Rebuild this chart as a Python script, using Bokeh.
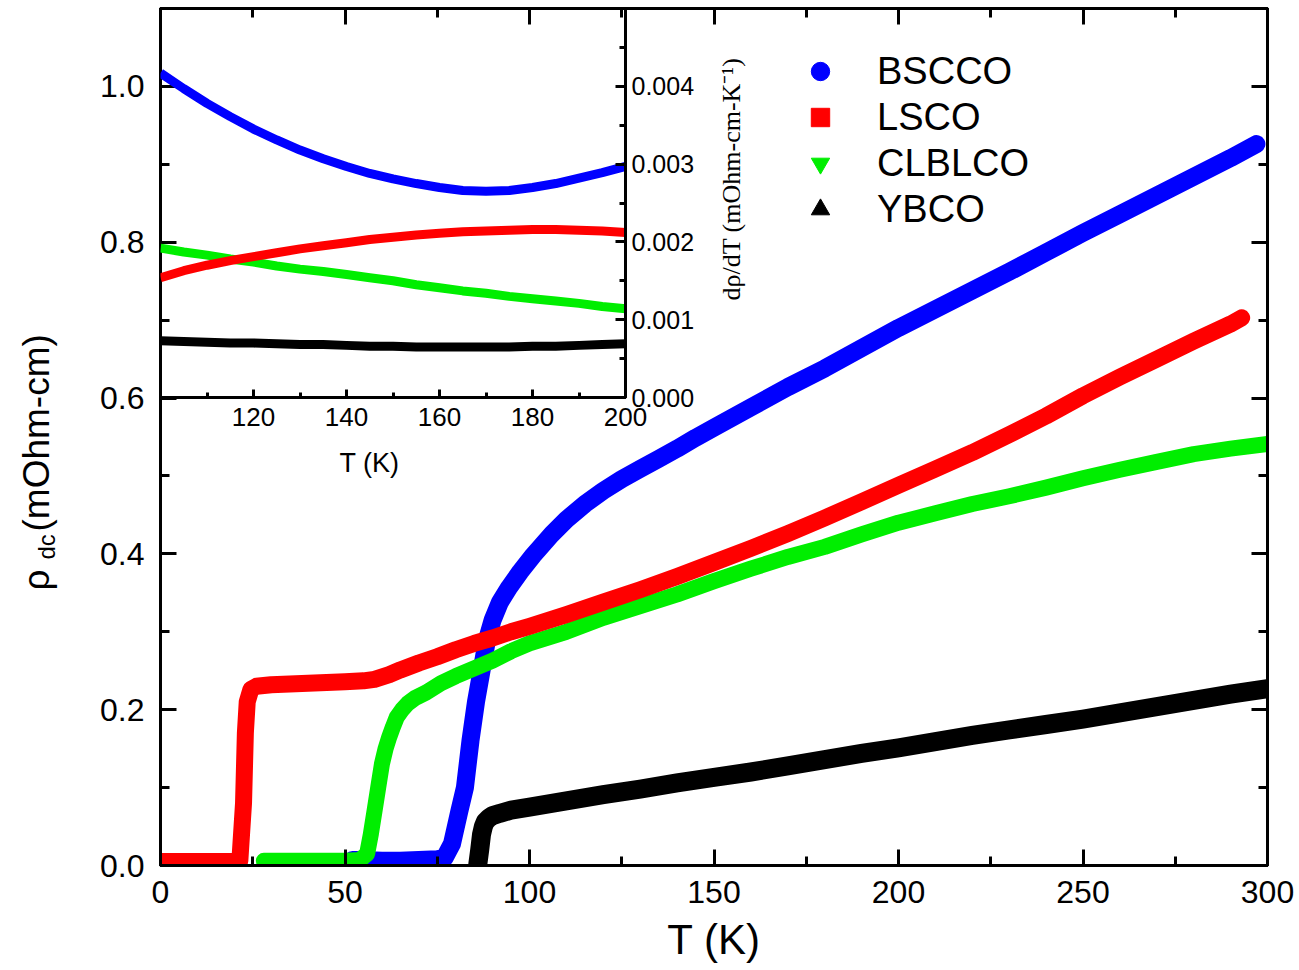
import math
from bokeh.plotting import figure
from bokeh.models import (Range1d, LinearAxis, SingleIntervalTicker, FixedTicker,
                          PrintfTickFormatter, CustomJSTickFormatter, Legend, LegendItem, Label)
from bokeh.layouts import column
from bokeh.embed import file_html
from bokeh.resources import INLINE

# ---------------- data ----------------
# Main panel: resistivity rho_dc (mOhm-cm) vs T (K)
bscco_T = [52, 55, 60, 65, 70, 75, 77, 79, 81, 82.5, 84, 85.5, 87, 88.5, 90, 92, 94.5, 97.5, 101, 106,
           110, 115, 120, 125, 130, 135, 140, 145, 150, 160, 170, 180, 190, 200, 210, 220, 230, 240,
           250, 260, 270, 280, 290, 297]
bscco_R = [0.007, 0.007, 0.006, 0.006, 0.007, 0.008, 0.010, 0.028, 0.07, 0.10, 0.16, 0.21, 0.25, 0.29,
           0.315, 0.338, 0.357, 0.377, 0.398, 0.425, 0.444, 0.464, 0.481, 0.496, 0.509, 0.522, 0.535,
           0.549, 0.562, 0.588, 0.614, 0.638, 0.664, 0.690, 0.714, 0.738, 0.762, 0.787, 0.812, 0.836,
           0.860, 0.884, 0.908, 0.926]

lsco_T = [0, 5, 10, 15, 20, 21.5, 22.5, 23, 23.5, 24.5, 26, 28, 30, 35, 40, 45, 50, 55, 58, 62, 65, 70,
          75, 80, 85, 90, 95, 100, 110, 120, 130, 140, 150, 160, 170, 180, 190, 200, 210, 220, 230,
          240, 250, 260, 270, 280, 290, 293]
lsco_R = [0.005, 0.005, 0.005, 0.005, 0.005, 0.006, 0.08, 0.17, 0.21, 0.226, 0.230, 0.231, 0.232, 0.233,
          0.234, 0.235, 0.236, 0.237, 0.239, 0.245, 0.251, 0.260, 0.268, 0.277, 0.285, 0.292, 0.300,
          0.307, 0.322, 0.338, 0.354, 0.371, 0.389, 0.407, 0.426, 0.446, 0.467, 0.488, 0.509, 0.530,
          0.553, 0.577, 0.603, 0.627, 0.650, 0.673, 0.695, 0.703]

clblco_T = [28, 35, 40, 45, 50, 54, 56, 57, 58, 59, 60, 61, 62, 63, 64, 65.5, 67, 69, 72, 76, 80, 85, 90,
            95, 100, 110, 120, 130, 140, 150, 160, 170, 180, 190, 200, 210, 220, 230, 240, 250, 260,
            270, 280, 290, 300]
clblco_R = [0.006, 0.006, 0.006, 0.006, 0.006, 0.007, 0.015, 0.04, 0.07, 0.10, 0.13, 0.15, 0.165, 0.178,
            0.19, 0.2, 0.208, 0.215, 0.222, 0.234, 0.243, 0.253, 0.263, 0.275, 0.285, 0.300, 0.318,
            0.333, 0.348, 0.365, 0.381, 0.396, 0.409, 0.425, 0.440, 0.452, 0.464, 0.474, 0.485, 0.497,
            0.508, 0.518, 0.528, 0.535, 0.541]

ybco_T = [86, 86.5, 87, 87.5, 88, 89, 90, 92, 95, 100, 110, 120, 130, 140, 150, 160, 170, 180, 190, 200,
          210, 220, 230, 240, 250, 260, 270, 280, 290, 300]
ybco_R = [0.002, 0.02, 0.04, 0.05, 0.056, 0.061, 0.064, 0.067, 0.071, 0.075, 0.083, 0.091, 0.098, 0.106,
          0.113, 0.120, 0.128, 0.136, 0.144, 0.151, 0.159, 0.167, 0.174, 0.181, 0.188, 0.196, 0.204,
          0.212, 0.220, 0.227]

# Inset: d rho / dT (mOhm-cm-K^-1) vs T (K)
inset_T = [100, 105, 110, 115, 120, 125, 130, 135, 140, 145, 150, 155, 160, 165, 170, 175, 180, 185,
           190, 195, 200]
bscco_dR = [0.00417, 0.00397, 0.00378, 0.00361, 0.00345, 0.00331, 0.00318, 0.00307, 0.00297, 0.00288,
            0.00281, 0.00275, 0.00270, 0.00266, 0.00265, 0.00266, 0.00270, 0.00275, 0.00282, 0.00289,
            0.00297]
lsco_dR = [0.00154, 0.00163, 0.00170, 0.00176, 0.00181, 0.00186, 0.00191, 0.00195, 0.00199, 0.00203,
           0.00206, 0.00209, 0.00211, 0.00213, 0.00214, 0.00215, 0.00216, 0.00216, 0.00215, 0.00214,
           0.00212]
clblco_dR = [0.00192, 0.00187, 0.00183, 0.00178, 0.00174, 0.00169, 0.00165, 0.00162, 0.00158, 0.00154,
             0.00150, 0.00145, 0.00141, 0.00137, 0.00134, 0.00130, 0.00127, 0.00124, 0.00121, 0.00117,
             0.00114]
ybco_dR = [0.00073, 0.00072, 0.00071, 0.00070, 0.00070, 0.00069, 0.00068, 0.00068, 0.00067, 0.00066,
           0.00066, 0.00065, 0.00065, 0.00065, 0.00065, 0.00065, 0.00066, 0.00066, 0.00067, 0.00068,
           0.00069]

names = ["BSCCO", "LSCO", "CLBLCO", "YBCO"]
inset_x_ticks = [120, 140, 160, 180, 200]
inset_x_minor = [110, 130, 150, 170, 190]
inset_y_ticks = [0.0, 0.001, 0.002, 0.003, 0.004]
inset_y_minor = [0.0005, 0.0015, 0.0025, 0.0035, 0.0045]

BLUE, RED, GREEN, BLACK = "#0000ff", "#ff0000", "#00ee00", "#000000"
FONT = "Liberation Sans"
SERIF = "Liberation Serif"
W, H = 1299, 970
LEFT = 160  # left border of the main panel (the column aligns child frames to it)

# ---------------- main figure ----------------
main = figure(frame_width=1107, frame_height=857,
              x_range=Range1d(0, 300), y_range=Range1d(0, 1.1),
              min_border_left=LEFT, min_border_right=32, min_border_top=8, min_border_bottom=105,
              output_backend="svg", toolbar_location=None,
              background_fill_color="white", border_fill_color="white")
main.grid.visible = False
main.outline_line_color = "black"
main.outline_line_width = 3


def style_axis(ax, major_in, minor_in, font_size, standoff):
    ax.axis_line_width = 3
    ax.major_tick_line_width = 3
    ax.minor_tick_line_width = 3
    ax.major_tick_in = major_in
    ax.major_tick_out = 0
    ax.minor_tick_in = minor_in
    ax.minor_tick_out = 0
    ax.major_label_text_font = FONT
    ax.major_label_text_font_size = font_size
    ax.major_label_text_color = "black"
    ax.major_label_standoff = standoff


xax = main.xaxis[0]
xax.ticker = SingleIntervalTicker(interval=50, num_minor_ticks=2)
style_axis(xax, 16, 9, "32px", 15)
xax.axis_label = "T (K)"
xax.axis_label_text_font = FONT
xax.axis_label_text_font_size = "42px"
xax.axis_label_text_font_style = "normal"
xax.axis_label_text_color = "black"
xax.axis_label_standoff = 10

yax = main.yaxis[0]
yax.ticker = SingleIntervalTicker(interval=0.2, num_minor_ticks=2)
yax.formatter = PrintfTickFormatter(format="%.1f")
style_axis(yax, 16, 9, "32px", 16)

blank = CustomJSTickFormatter(code="return ''")
top_ax = LinearAxis(ticker=SingleIntervalTicker(interval=50, num_minor_ticks=2), formatter=blank)
style_axis(top_ax, 16, 9, "0px", 0)
main.add_layout(top_ax, "above")
right_ax = LinearAxis(ticker=SingleIntervalTicker(interval=0.2, num_minor_ticks=2), formatter=blank)
style_axis(right_ax, 16, 9, "0px", 0)
main.add_layout(right_ax, "right")

series = [
    (names[3], ybco_T, ybco_R, BLACK, 19, "triangle"),
    (names[0], bscco_T, bscco_R, BLUE, 18, "circle"),
    (names[2], clblco_T, clblco_R, GREEN, 16, "inverted_triangle"),
    (names[1], lsco_T, lsco_R, RED, 17, "square"),
]
key_r = {}
for (nm, T, R, col, lw, mk) in series:
    # small markers at the read points, covered by the thick band drawn over them
    key_r[nm] = main.scatter(T, R, marker=mk, size=8, fill_color=col, line_color=col)
for (nm, T, R, col, lw, mk) in series:
    main.line(T, R, line_color=col, line_width=lw, line_join="round", line_cap="round")

legend = Legend(items=[LegendItem(label=nm, renderers=[key_r[nm]]) for nm in names],
                location=(637, 633))
legend.border_line_color = None
legend.background_fill_alpha = 0
legend.label_text_font = FONT
legend.label_text_font_size = "38px"
legend.label_text_color = "black"
legend.glyph_width = 46
legend.glyph_height = 46
legend.spacing = 0
legend.padding = 0
legend.margin = 0
legend.label_standoff = 34
main.add_layout(legend, "center")

# ---------------- inset figure ----------------
inset = figure(frame_width=465, frame_height=389,
               x_range=Range1d(100, 200), y_range=Range1d(0, 0.005),
               min_border_left=LEFT, min_border_right=160, min_border_top=8, min_border_bottom=100,
               y_axis_location="right",
               output_backend="svg", toolbar_location=None,
               background_fill_color=None, border_fill_color=None)
inset.grid.visible = False
inset.outline_line_color = "black"
inset.outline_line_width = 3

ix = inset.xaxis[0]
ix.ticker = FixedTicker(ticks=inset_x_ticks, minor_ticks=inset_x_minor)
style_axis(ix, 8, 5, "26px", 10)
iy = inset.yaxis[0]
iy.ticker = FixedTicker(ticks=inset_y_ticks, minor_ticks=inset_y_minor)
iy.formatter = PrintfTickFormatter(format="%.3f")
style_axis(iy, 10, 6, "25px", 6)

for dR, col in [(ybco_dR, BLACK), (clblco_dR, GREEN), (lsco_dR, RED), (bscco_dR, BLUE)]:
    inset.line(inset_T, dR, line_color=col, line_width=9, line_join="round")

inset.styles = {"position": "absolute", "left": "0px", "top": "0px", "z-index": "5"}

# ---------------- transparent overlay for free-standing titles ----------------
over = figure(frame_width=W, frame_height=H, x_range=Range1d(0, W), y_range=Range1d(0, H),
              x_axis_type=None, y_axis_type=None,
              min_border=0, min_border_left=0, min_border_right=0, min_border_top=0, min_border_bottom=0,
              output_backend="svg", toolbar_location=None,
              background_fill_color=None, border_fill_color=None, outline_line_color=None)
over.grid.visible = False


def add_text(txt, cx, cy, size, font=FONT, angle=0.0, align="left", baseline="alphabetic"):
    # cx, cy are pixel positions measured from the top-left of the page
    over.add_layout(Label(x=cx, y=H - cy, x_units="screen", y_units="screen", text=txt,
                          angle=angle, text_font=font, text_font_size=size, text_color="black",
                          text_align=align, text_baseline=baseline))


# main y-axis title with subscript
add_text("ρ", 36, 590, "37px", angle=math.pi / 2)
add_text("dc", 46, 559, "24px", angle=math.pi / 2)
add_text("(mOhm-cm)", 36, 531, "37px", angle=math.pi / 2)
# inset titles
add_text("T (K)", 369, 462, "27px", align="center", baseline="middle")
add_text("dρ/dT (mOhm-cm-K⁻¹)", 731, 300, "26px", font=SERIF, angle=math.pi / 2)

# the column pads this frame to line up with the main frame; pull it back to the page origin
over.styles = {"position": "absolute", "left": f"-{LEFT}px", "top": "0px", "z-index": "6"}

root = column(main, inset, over)
open("out.html", "w").write(file_html(root, INLINE))
